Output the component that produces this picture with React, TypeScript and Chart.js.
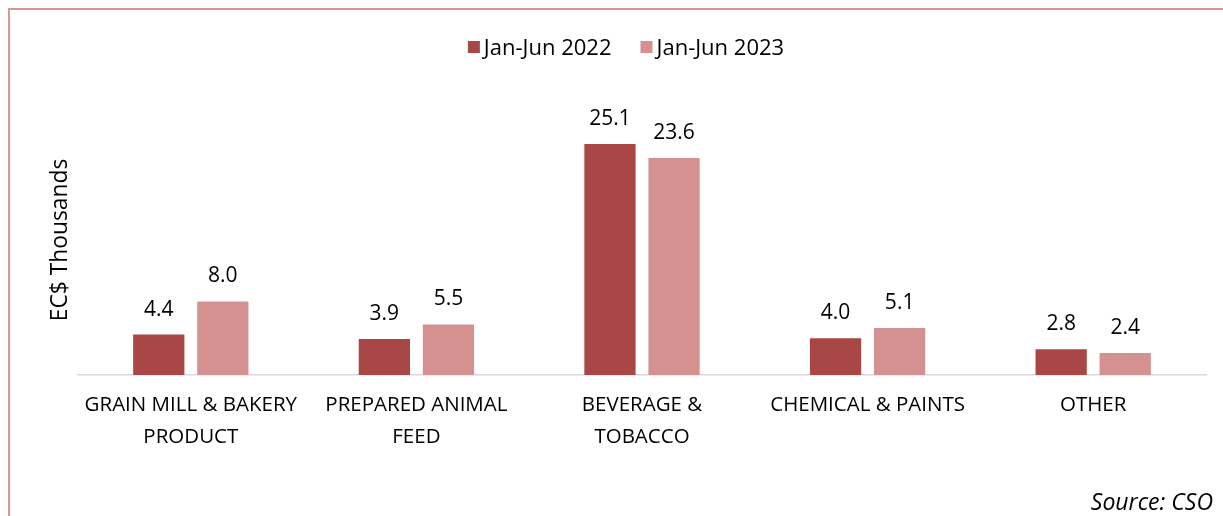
import { useEffect, useRef } from 'react';
import { Chart, registerables } from 'chart.js';

Chart.register(...registerables);

const categories: string[][] = [
  ['GRAIN MILL & BAKERY', 'PRODUCT'],
  ['PREPARED ANIMAL', 'FEED'],
  ['BEVERAGE &', 'TOBACCO'],
  ['CHEMICAL & PAINTS'],
  ['OTHER'],
];
const seriesNames = ['Jan-Jun 2022', 'Jan-Jun 2023'];
const values2022 = [4.4, 3.9, 25.1, 4.0, 2.8];
const values2023 = [8.0, 5.5, 23.6, 5.1, 2.4];
const colors = ['#A84745', '#D4918F'];
const yTitle = 'EC$ Thousands';
const sourceText = 'Source: CSO';

const FONT = '"Open Sans", sans-serif';
const FS_LEGEND = 22;
const FS_LABEL = 21;
const FS_TICK = 20.5;
const FS_TITLE = 22.8;
const FS_SOURCE = 23;

const framePlugin = {
  id: 'frame',
  beforeDraw(chart: any) {
    const ctx = chart.ctx;
    ctx.save();
    ctx.fillStyle = '#ffffff';
    ctx.fillRect(0, 0, chart.width, chart.height);
    ctx.strokeStyle = '#D99694';
    ctx.lineWidth = 2;
    ctx.beginPath();
    ctx.moveTo(9, chart.height);
    ctx.lineTo(9, 9);
    ctx.lineTo(chart.width, 9);
    ctx.stroke();
    ctx.restore();
  },
  afterDraw(chart: any) {
    const ctx = chart.ctx;
    ctx.save();
    // legend
    ctx.font = `${FS_LEGEND}px ${FONT}`;
    ctx.textBaseline = 'alphabetic';
    const ds = chart.data.datasets;
    const box = 12;
    const gapText = 4;
    const gapItem = 29;
    const widths = ds.map((d: any) => box + gapText + ctx.measureText(d.label).width);
    const total = widths.reduce((a: number, b: number) => a + b, 0) + gapItem * (ds.length - 1);
    let x = 626 - total / 2;
    ds.forEach((d: any, i: number) => {
      ctx.fillStyle = d.backgroundColor;
      ctx.fillRect(x, 41, box, box);
      ctx.fillStyle = '#000';
      ctx.textAlign = 'left';
      ctx.fillText(d.label, x + box + gapText, 55);
      x += widths[i] + gapItem;
    });
    // y title
    ctx.save();
    ctx.font = `${FS_TITLE}px ${FONT}`;
    ctx.textAlign = 'center';
    ctx.textBaseline = 'middle';
    ctx.translate(61, 240);
    ctx.rotate(-Math.PI / 2);
    ctx.fillText(yTitle, 0, 0);
    ctx.restore();
    // source
    ctx.font = `italic ${FS_SOURCE}px ${FONT}`;
    ctx.textAlign = 'right';
    ctx.textBaseline = 'alphabetic';
    ctx.fillText(sourceText, 1213, 510);
    ctx.restore();
  },
  afterDatasetsDraw(chart: any) {
    const ctx = chart.ctx;
    ctx.save();
    ctx.font = `${FS_LABEL}px ${FONT}`;
    ctx.fillStyle = '#000';
    ctx.textAlign = 'center';
    ctx.textBaseline = 'alphabetic';
    chart.data.datasets.forEach((d: any, i: number) => {
      const meta = chart.getDatasetMeta(i);
      meta.data.forEach((el: any, j: number) => {
        ctx.fillText(Number(d.data[j]).toFixed(1), el.x, el.y - 19);
      });
    });
    ctx.restore();
  },
};

export default function App() {
  const ref = useRef<HTMLCanvasElement>(null);
  useEffect(() => {
    if (!ref.current) return;
    const chart = new Chart(ref.current, {
      type: 'bar',
      data: {
        labels: categories,
        datasets: [
          { label: seriesNames[0], data: values2022, backgroundColor: colors[0], barPercentage: 0.8, categoryPercentage: 0.568 },
          { label: seriesNames[1], data: values2023, backgroundColor: colors[1], barPercentage: 0.8, categoryPercentage: 0.568 },
        ],
      },
      options: {
        animation: false,
        responsive: true,
        maintainAspectRatio: false,
        layout: { padding: { left: 78, right: 17, top: 99, bottom: 0 } },
        plugins: {
          legend: { display: false },
          tooltip: { enabled: false },
        },
        scales: {
          x: {
            grid: { display: false },
            border: { display: true, color: '#D9D9D9', width: 1.5 },
            afterFit(scale: any) { scale.height = 141; },
            ticks: {
              color: '#000',
              font: { family: FONT, size: FS_TICK, lineHeight: 1.52 },
              maxRotation: 0,
              autoSkip: false,
              padding: 7,
            },
          },
          y: {
            display: false,
            min: 0,
            max: 30,
          },
        },
      },
      plugins: [framePlugin],
    });
    return () => chart.destroy();
  }, []);
  return (
    <div style={{ position: 'fixed', left: 0, top: 0, width: 1223, height: 516, background: '#fff' }}>
      <canvas ref={ref} />
    </div>
  );
}
